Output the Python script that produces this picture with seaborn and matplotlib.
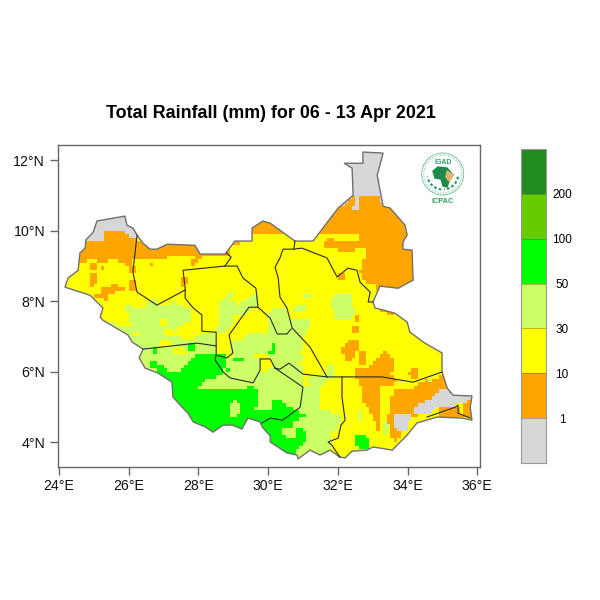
import numpy as np
import matplotlib
matplotlib.use("Agg")
import matplotlib.pyplot as plt
from matplotlib.colors import ListedColormap
from matplotlib.patches import Arc, Circle, Polygon
import seaborn as sns

# rainfall classes, lowest first
class_codes = "goylGmd"
class_colors = ["#D7D7D7", "#FFA500", "#FFFF00", "#CCFF66", "#00FF00", "#66CC00", "#228B22"]
class_labels = ["1", "10", "30", "50", "100", "200"]

title = "Total Rainfall (mm) for 06 - 13 Apr 2021"
lon_ticks = [24, 26, 28, 30, 32, 34, 36]
lat_ticks = [4, 6, 8, 10, 12]

# rows are 0.1 deg of latitude from 12.4N, each entry is "<start column><class>", columns are 0.1 deg from 24E
rain_rows = [
    "0g", "0g", "0g", "0g", "0g", "0g", "0g", "0g", "0g", "0g", "0g", "0g", "0g", "0g",
    "0g 84o 85g 86o 92g",
    "0g 83o 85g 86o 92g",
    "0g 82o 85g 86o",
    "0o 84g 86o",
    "0o",
    "0o",
    "0g 52o",
    "0g 52o",
    "0g 52o",
    "0g 52o",
    "0g 13o 19g 22o",
    "0g 13o 20g 22y 86o",
    "0g 13o 22y 77o 79y 86o",
    "0o 52y 76o",
    "0o 49y 76o",
    "0o 49y 80o 85y 88o",
    "0o 49y 88o",
    "0o 31y 39o 41y 88o",
    "0o 8y 11o 14y 17o 21y 38o 40y 87o",
    "0y 9o 11y 19o 21y 26o 27y 38o 39y 87o",
    "0y 9o 11y 12o 13y 20o 22y 87o",
    "0y 20o 22y 86o",
    "0y 9o 11y 80o 82y 87o",
    "0y 9o 11y 35o 37y 80o 82y 87o",
    "0y 9o 11y 20o 22y 35o 37y 88o",
    "0y 9o 10y 15o 17y 20o 22y 35o 36y 91o",
    "0y 12o 19y 20o 22y 91o",
    "0y 12o 16y 49l 50y",
    "0y 10o 14y 48l 50y 55l 57y 70l 73y 79l 84y",
    "0y 13o 14y 27l 28y 47l 49y 54l 57y 78l 84y",
    "0y 25l 28y 32l 34y 46l 51y 52l 57y 78l 84y",
    "0y 19l 21y 25l 36y 46l 57y 68l 71y 78l 84y",
    "0y 19l 38y 46l 55y 61l 65y 67l 71y 79l 85y 92o 95y",
    "0y 20l 38y 46l 54y 60l 66y 79l 85y 94o 96y",
    "0y 20l 38y 46l 50y 60l 66y 79l 84y 85o 86y",
    "0y 20l 29y 31l 38y 46l 50y 60l 72y 85o 86y",
    "0l 16y 21l 29y 31l 36y 46l 50y 60l 72y",
    "0l 34y 45l 49y 60l 72y 84o 86y",
    "0l 30y 33l 34y 45l 48y 60l 71y 84o 86y",
    "0l 21y 23l 30y 40l 45y 54l 71y",
    "0l 35y 39l 45y 53l 70y",
    "0l 29y 32l 45y 50l 70y 83o 86y",
    "0l 29y 32l 37G 39l 45y 49l 61G 62l 70y 82o 86y",
    "0l 27G 28l 33y 36l 37G 39l 45y 49l 61G 62l 70y 81o 86y",
    "0l 27G 28l 33y 37l 45y 49l 60G 62l 69y 81o 85y 86o 88y 93o 94y",
    "0l 39G 48y 50l 56y 60l 70y 82o 85y 86o 88y 92o 95y",
    "0l 38G 48l 50G 53l 58y 61l 70y 82o 84y 86o 88y 91o 96y",
    "0l 26G 28l 37G 48l 58y 61l 69y 86o 88y 90o 96y",
    "0l 26G 30l 36G 48l 58y 61l 70y 77l 79y 89o 96y",
    "0l 28G 31l 35G 47l 48G 49l 58y 60l 70y 77l 79y 85o 96y 101o 103y",
    "0G 47l 70y 77l 79y 85o 95y 100o 103y",
    "0G 45l 70y 72l 79y 85o 96y 101o 103y 109o",
    "0G 42l 70y 71l 77y 86o 97y 105o 106l 107o",
    "0G 41l 70y 72l 76y 86o 96y 103o",
    "0G 40l 54G 56l 75y 87o 92y 102o",
    "0G 57l 75y 87o 92y 96o 109g 112o",
    "0G 57l 75y 87o 92y 96o 108g",
    "0G 57l 75y 87o 92y 95o 107g",
    "0G 50l 51G 57l 61G 64l 75y 87o 92y 95o 105g 117o",
    "0G 49l 52G 57l 61G 65l 75y 88o 92y 95o 103g 114y 116o",
    "0G 49l 52G 56l 61G 67l 75y 89o 92y 95o 102g 108y 109o 115y 116o",
    "0G 49l 52G 61G 69l 78y 86l 87y 89o 92y 95o 102g 107y 109o 115y 116o",
    "0G 49l 51G 71l 81y 86l 87y 90o 92y 94o 96g 101o 103y 109o",
    "0G 69l 81y 86l 87y 90o 92y 94o 96g 101y",
    "0G 67l 81y 91o 92y 93l 94o 96g 100y",
    "0G 67l 80y 91o 92y 93l 95o 96g 100y",
    "0G 64l 68G 70l 80y 91o 92y 93l 94y 95o 97g 100y",
    "0G 64l 68G 71l 78y 93l 94y 95o 98y",
    "0G 65l 68G 71l 78y 85G 88y 95o 98y",
    "0G 71l 78y 85G 89y 96o 97y",
    "0G 70l 78y 85G 89y",
    "0G 69l 78y 86G 89y",
    "0G 68l 78y",
    "0G 68l 78y",
    "0l 78y",
    "0l 78y",
]

# country outline (lon, lat)
outline = [
    (24.17, 8.40), (24.26, 8.66), (24.55, 8.88), (24.60, 9.37), (24.75, 9.51), (24.77, 9.74),
    (24.98, 9.96), (25.09, 10.28), (25.89, 10.42), (25.95, 10.16), (26.12, 10.08), (26.24, 9.88),
    (26.41, 9.65), (26.61, 9.48), (26.81, 9.48), (27.10, 9.62), (27.90, 9.59), (28.05, 9.34),
    (28.76, 9.34), (29.05, 9.71), (29.54, 9.71), (29.54, 10.08), (29.85, 10.28), (30.06, 10.22),
    (30.77, 9.71), (31.29, 9.71), (32.01, 10.65), (32.44, 11.01), (32.41, 11.78), (32.18, 11.92),
    (32.72, 11.92), (32.72, 12.24), (33.30, 12.21), (33.13, 11.58), (33.30, 10.70), (33.50, 10.65),
    (33.93, 10.16), (33.99, 9.88), (33.87, 9.68), (33.87, 9.48), (34.13, 9.45), (34.16, 8.60),
    (33.73, 8.37), (33.21, 8.43), (33.01, 7.98), (33.07, 7.81), (33.64, 7.66), (33.99, 7.41),
    (34.07, 7.12), (34.50, 6.81), (34.99, 6.53), (34.99, 5.99), (35.14, 5.53), (35.31, 5.33),
    (35.85, 5.31), (35.80, 4.99), (35.85, 4.62), (35.57, 4.68), (34.85, 4.71), (34.27, 4.54),
    (33.99, 4.20), (33.56, 3.77), (33.01, 3.86), (32.84, 3.77), (32.41, 3.74), (32.21, 3.55),
    (32.06, 3.57), (31.78, 3.77), (31.49, 3.63), (31.20, 3.77), (30.86, 3.52), (30.83, 3.63),
    (30.54, 3.69), (30.06, 4.00), (30.06, 4.17), (29.83, 4.43), (29.77, 4.57), (29.42, 4.68),
    (29.25, 4.37), (28.97, 4.48), (28.71, 4.48), (28.42, 4.28), (28.19, 4.43), (27.85, 4.57),
    (27.70, 4.82), (27.53, 4.99), (27.27, 5.28), (27.24, 5.70), (26.84, 5.96), (26.47, 6.10),
    (26.30, 6.39), (26.41, 6.64), (26.10, 6.84), (25.98, 7.04), (25.26, 7.46), (25.18, 7.55),
    (25.26, 7.81), (24.89, 8.17),
]

# state borders (lon, lat)
borders = [
    [(26.24, 9.88), (26.12, 8.83), (26.24, 8.26), (26.81, 7.89), (27.62, 8.32)],
    [(28.81, 9.37), (28.94, 9.25), (28.76, 9.00), (27.56, 8.88), (27.62, 8.37), (27.62, 8.09),
     (27.85, 7.81), (28.10, 7.61), (28.10, 7.15), (28.51, 7.12), (28.51, 6.47), (28.48, 6.33),
     (28.71, 5.99), (28.91, 5.82), (29.57, 5.68), (29.77, 6.04), (29.77, 6.36), (30.06, 6.36),
     (30.20, 6.10)],
    [(28.76, 9.00), (29.11, 9.00), (29.28, 8.66), (29.65, 8.37), (29.71, 7.83)],
    [(26.41, 6.64), (27.96, 6.81), (28.51, 6.73)],
    [(28.51, 6.47), (28.82, 6.39), (28.99, 6.53), (28.88, 7.04), (29.45, 7.83), (29.71, 7.83),
     (30.06, 7.52), (30.26, 7.07), (30.54, 7.07), (30.66, 7.21)],
    [(30.77, 9.71), (30.74, 9.48), (30.43, 9.48), (30.34, 9.23), (30.20, 8.97), (30.29, 8.66),
     (30.34, 8.12), (30.54, 7.81), (30.69, 7.24), (31.20, 6.70), (31.69, 5.85)],
    [(30.74, 9.48), (30.97, 9.51), (31.69, 9.23), (31.98, 8.69), (32.29, 8.94), (32.55, 8.88),
     (32.64, 8.54), (32.93, 8.26), (32.87, 7.98), (33.01, 7.98)],
    [(30.20, 6.10), (30.34, 6.07), (30.60, 6.24), (31.00, 5.93), (31.69, 5.85)],
    [(30.20, 6.10), (31.00, 5.56), (30.92, 4.99), (30.54, 4.71), (30.40, 4.62), (30.06, 4.68), (29.83, 4.54)],
    [(31.69, 5.85), (33.27, 5.85), (34.16, 5.70), (34.99, 5.99)],
    [(32.12, 5.85), (32.12, 5.28), (32.21, 4.62), (32.09, 4.48), (32.01, 4.11), (31.72, 4.00),
     (31.83, 3.91), (32.06, 3.57)],
    [(34.56, 4.71), (35.37, 4.99), (35.45, 5.05), (35.45, 4.82), (35.80, 4.68)],
]


def decode_rows(rows, n_cols=120):
    grid = np.full((len(rows), n_cols), np.nan)
    for r, row in enumerate(rows):
        for tok in row.split():
            grid[r, int(tok[:-1]):] = class_codes.index(tok[-1])
    return grid


def to_x(lon):
    return (np.asarray(lon, dtype=float) - 24) * 10


def to_y(lat):
    return (12.4 - np.asarray(lat, dtype=float)) * len(rain_rows) / 9.0


plt.rcParams["font.family"] = ["Liberation Sans", "DejaVu Sans"]
cmap = ListedColormap(class_colors)
fig = plt.figure(figsize=(6, 6), dpi=100)

# map panel
ax = fig.add_axes([57.5 / 600, 1 - 467 / 600, 422.5 / 600, 322 / 600])
sns.heatmap(decode_rows(rain_rows), ax=ax, cmap=cmap, vmin=-0.5, vmax=6.5, cbar=False,
            xticklabels=False, yticklabels=False)
shape = np.array(outline)
clip = Polygon(np.c_[to_x(shape[:, 0]), to_y(shape[:, 1])], transform=ax.transData)
ax.collections[0].set_clip_path(clip)

ax.fill(to_x(shape[:, 0]), to_y(shape[:, 1]), fill=False, edgecolor="#707070", lw=1.0)
for line in borders:
    pts = np.array(line)
    ax.plot(to_x(pts[:, 0]), to_y(pts[:, 1]), color="#2A2A2A", lw=0.8)

ax.set_xlim(to_x(23.957), to_x(36.08))
ax.set_ylim(to_y(3.29), to_y(12.44))
ax.set_xticks(to_x(lon_ticks))
ax.set_xticklabels([f"{v}°E" for v in lon_ticks], rotation=0, fontsize=10.2)
ax.set_yticks(to_y(lat_ticks))
ax.set_yticklabels([f"{v}°N" for v in lat_ticks], rotation=0, fontsize=10.2)
ax.tick_params(length=6, width=1, color="#666666", labelcolor="#111111", pad=3,
               bottom=True, left=True)
for spine in ax.spines.values():
    spine.set_visible(True)
    spine.set_color("#666666")
    spine.set_linewidth(1)

fig.text(271 / 600, 1 - 113 / 600, title, ha="center", va="center", fontsize=12.85, fontweight="bold")

# legend bar
cax = fig.add_axes([521 / 600, 1 - 463 / 600, 25 / 600, 314 / 600])
sns.heatmap(np.arange(len(class_colors))[::-1].reshape(-1, 1), ax=cax, cmap=cmap, vmin=-0.5, vmax=6.5,
            cbar=False, xticklabels=False, yticklabels=False)
cax.set_yticks(np.arange(1, len(class_colors)))
cax.set_yticklabels(class_labels[::-1], rotation=0, fontsize=8.5, ha="center")
cax.yaxis.tick_right()
cax.tick_params(axis="y", length=0, pad=11.5)
for spine in cax.spines.values():
    spine.set_visible(True)
    spine.set_color("#999999")
    spine.set_linewidth(0.8)
for y in cax.get_yticks():
    cax.axhline(y, color="#555555", lw=0.5, alpha=0.6)

# logo, drawn in picture pixels
logo = fig.add_axes([410 / 600, 1 - 215 / 600, 70 / 600, 70 / 600])
logo.set_xlim(410, 480)
logo.set_ylim(215, 145)
logo.axis("off")
teal = "#2F9E62"
logo.add_patch(Circle((442.7, 174), 21, fill=False, ec=teal, lw=0.6, alpha=0.7))
logo.add_patch(Circle((442.7, 174), 19, fill=False, ec=teal, lw=0.8, ls=(0, (1, 1.5)), alpha=0.6))
logo.add_patch(Arc((442.7, 174), 31, 31, theta1=10, theta2=85, ec=teal, lw=1.6, ls=(0, (1.2, 1))))
logo.add_patch(Arc((442.7, 174), 31, 31, theta1=95, theta2=170, ec=teal, lw=1.6, ls=(0, (1.2, 1))))
logo.add_patch(Polygon([(433, 171), (438, 167), (447, 168), (453, 175), (449, 181), (447, 187),
                        (443, 186), (441, 179), (435, 178)], color="#1E8A4C"))
logo.add_patch(Polygon([(447, 171), (453, 175), (449, 181), (446, 177)], color="#E8B26A"))
logo.text(442.7, 163, "IGAD", ha="center", va="center", fontsize=5, fontweight="bold", color=teal)
logo.text(442.7, 201, "ICPAC", ha="center", va="center", fontsize=5.3, fontweight="bold", color=teal)

fig.savefig("out.png", dpi=100)
